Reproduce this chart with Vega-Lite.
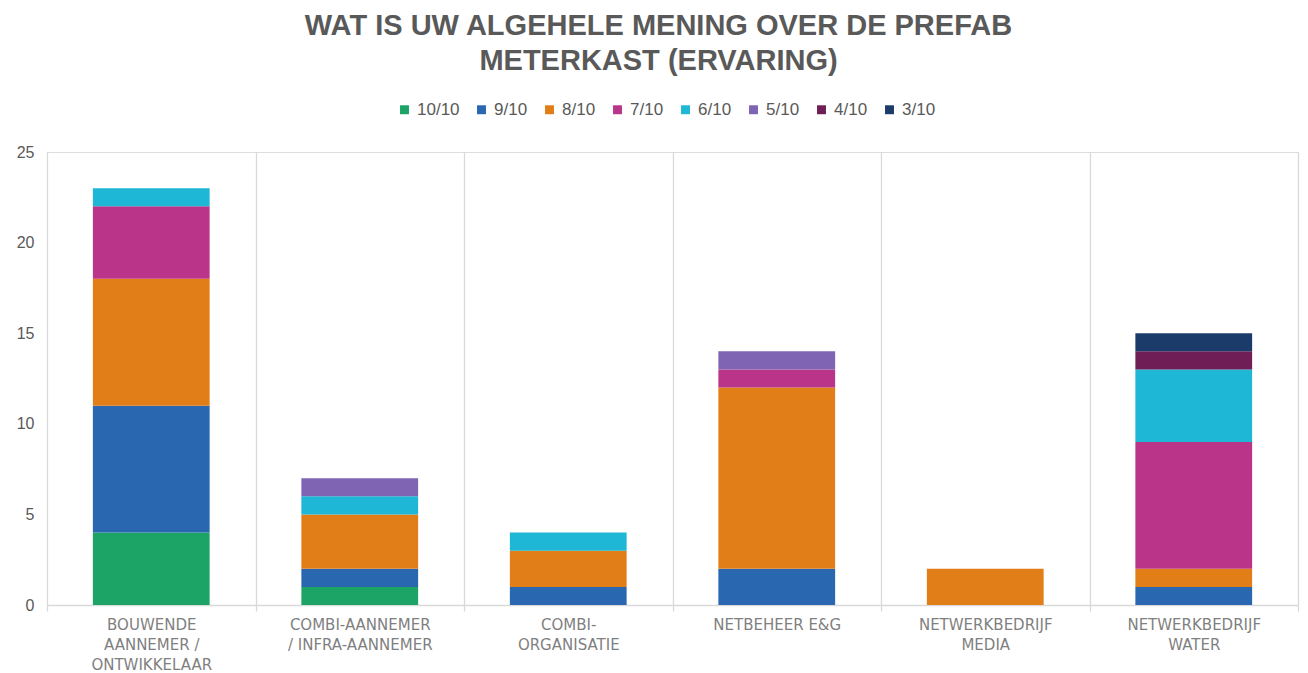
{
  "$schema": "https://vega.github.io/schema/vega-lite/v6.json",
  "width": 1251,
  "height": 453,
  "autosize": {"type": "none"},
  "padding": {"left": 47, "top": 152, "right": 10, "bottom": 68},
  "background": "white",
  "title": {
    "text": ["WAT IS UW ALGEHELE MENING OVER DE PREFAB", "METERKAST (ERVARING)"],
    "font": "Liberation Sans",
    "fontSize": 29,
    "fontWeight": "bold",
    "color": "#595959",
    "anchor": "middle",
    "dx": -14,
    "lineHeight": 35,
    "offset": 25
  },
  "data": {
    "values": [
      {"category": "BOUWENDE AANNEMER / ONTWIKKELAAR", "score": 10, "rating": "10/10", "count": 4},
      {"category": "BOUWENDE AANNEMER / ONTWIKKELAAR", "score": 9, "rating": "9/10", "count": 7},
      {"category": "BOUWENDE AANNEMER / ONTWIKKELAAR", "score": 8, "rating": "8/10", "count": 7},
      {"category": "BOUWENDE AANNEMER / ONTWIKKELAAR", "score": 7, "rating": "7/10", "count": 4},
      {"category": "BOUWENDE AANNEMER / ONTWIKKELAAR", "score": 6, "rating": "6/10", "count": 1},
      {"category": "COMBI-AANNEMER / INFRA-AANNEMER", "score": 10, "rating": "10/10", "count": 1},
      {"category": "COMBI-AANNEMER / INFRA-AANNEMER", "score": 9, "rating": "9/10", "count": 1},
      {"category": "COMBI-AANNEMER / INFRA-AANNEMER", "score": 8, "rating": "8/10", "count": 3},
      {"category": "COMBI-AANNEMER / INFRA-AANNEMER", "score": 6, "rating": "6/10", "count": 1},
      {"category": "COMBI-AANNEMER / INFRA-AANNEMER", "score": 5, "rating": "5/10", "count": 1},
      {"category": "COMBI-ORGANISATIE", "score": 9, "rating": "9/10", "count": 1},
      {"category": "COMBI-ORGANISATIE", "score": 8, "rating": "8/10", "count": 2},
      {"category": "COMBI-ORGANISATIE", "score": 6, "rating": "6/10", "count": 1},
      {"category": "NETBEHEER E&G", "score": 9, "rating": "9/10", "count": 2},
      {"category": "NETBEHEER E&G", "score": 8, "rating": "8/10", "count": 10},
      {"category": "NETBEHEER E&G", "score": 7, "rating": "7/10", "count": 1},
      {"category": "NETBEHEER E&G", "score": 5, "rating": "5/10", "count": 1},
      {"category": "NETWERKBEDRIJF MEDIA", "score": 8, "rating": "8/10", "count": 2},
      {"category": "NETWERKBEDRIJF WATER", "score": 9, "rating": "9/10", "count": 1},
      {"category": "NETWERKBEDRIJF WATER", "score": 8, "rating": "8/10", "count": 1},
      {"category": "NETWERKBEDRIJF WATER", "score": 7, "rating": "7/10", "count": 7},
      {"category": "NETWERKBEDRIJF WATER", "score": 6, "rating": "6/10", "count": 4},
      {"category": "NETWERKBEDRIJF WATER", "score": 4, "rating": "4/10", "count": 1},
      {"category": "NETWERKBEDRIJF WATER", "score": 3, "rating": "3/10", "count": 1}
    ]
  },
  "mark": {"type": "bar", "width": {"band": 0.56}},
  "encoding": {
    "x": {
      "field": "category",
      "type": "nominal",
      "sort": null,
      "title": null,
      "scale": {"paddingInner": 0, "paddingOuter": 0},
      "axis": {
        "labelAngle": 0,
        "tickBand": "extent",
        "grid": true,
        "gridColor": "#d9d9d9",
        "gridWidth": 1.3,
        "domainColor": "#d9d9d9",
        "domainWidth": 1.3,
        "tickColor": "#d9d9d9",
        "tickSize": 6,
        "tickWidth": 1.3,
        "labelFont": "DejaVu Sans",
        "labelFontSize": 15,
        "labelColor": "#7f7f7f",
        "labelPadding": 6,
        "labelLineHeight": 20,
        "labelLimit": 300,
        "labelExpr": "datum.value == 'BOUWENDE AANNEMER / ONTWIKKELAAR' ? ['BOUWENDE', 'AANNEMER /', 'ONTWIKKELAAR'] : datum.value == 'COMBI-AANNEMER / INFRA-AANNEMER' ? ['COMBI-AANNEMER', '/ INFRA-AANNEMER'] : datum.value == 'COMBI-ORGANISATIE' ? ['COMBI-', 'ORGANISATIE'] : datum.value == 'NETWERKBEDRIJF MEDIA' ? ['NETWERKBEDRIJF', 'MEDIA'] : datum.value == 'NETWERKBEDRIJF WATER' ? ['NETWERKBEDRIJF', 'WATER'] : datum.value"
      }
    },
    "y": {
      "field": "count",
      "type": "quantitative",
      "stack": "zero",
      "title": null,
      "scale": {"domain": [0, 25]},
      "axis": {
        "values": [0, 5, 10, 15, 20, 25],
        "grid": false,
        "domain": false,
        "ticks": false,
        "labelFont": "Liberation Sans",
        "labelFontSize": 16,
        "labelColor": "#595959",
        "labelPadding": 13
      }
    },
    "color": {
      "field": "rating",
      "type": "nominal",
      "scale": {
        "domain": ["10/10", "9/10", "8/10", "7/10", "6/10", "5/10", "4/10", "3/10"],
        "range": ["#1ba466", "#2a67b1", "#e27e17", "#ba3589", "#1eb7d6", "#8064b4", "#6f1f55", "#1b3c6b"]
      },
      "legend": {
        "title": null,
        "orient": "none",
        "direction": "horizontal",
        "legendX": 349,
        "legendY": -51,
        "symbolType": "square",
        "symbolSize": 80,
        "symbolStrokeWidth": 0,
        "labelFont": "Liberation Sans",
        "labelFontSize": 17,
        "labelColor": "#595959",
        "labelOffset": 4,
        "columnPadding": 13,
        "symbolOffset": 0
      }
    },
    "order": {"field": "score", "sort": "descending"}
  }
}
